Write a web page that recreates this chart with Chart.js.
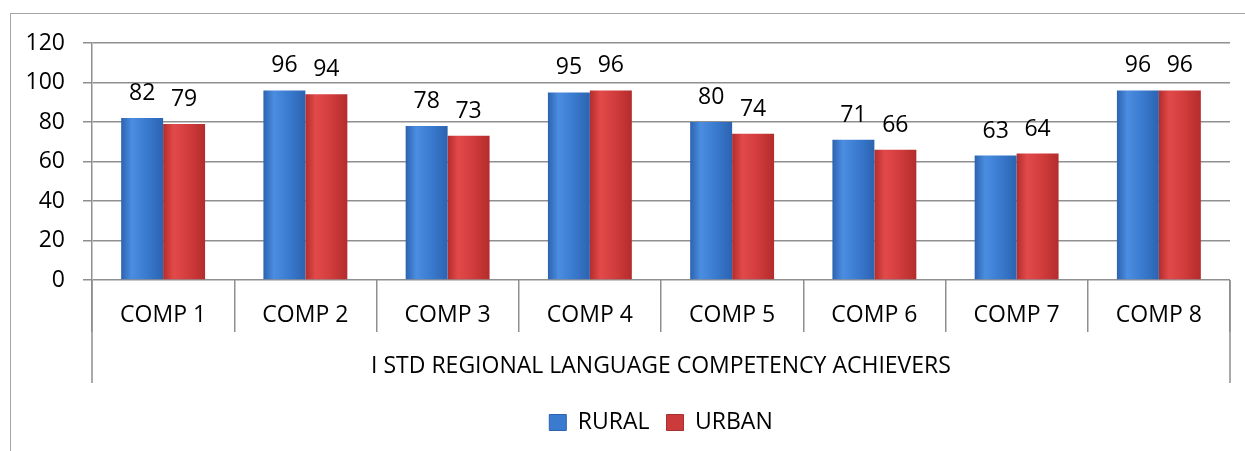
<!DOCTYPE html>
<html>
<head>
<meta charset="utf-8">
<script src="https://cdn.jsdelivr.net/npm/chart.js@4.4.1/dist/chart.umd.min.js"></script>
<style>
  html, body { margin: 0; padding: 0; background: #fff; overflow: hidden; }
  #wrap { position: relative; width: 1245px; height: 451px; }
  #frame { position: absolute; left: 10px; top: 13px; width: 1300px; height: 500px;
           border-left: 1px solid #a6a6a6; border-top: 1px solid #a6a6a6; pointer-events: none; }
  canvas { position: absolute; left: 0; top: 0; }
</style>
</head>
<body>
<div id="wrap">
  <div id="frame"></div>
  <canvas id="c" width="1245" height="451"></canvas>
</div>
<script>
const categories = ['COMP 1', 'COMP 2', 'COMP 3', 'COMP 4', 'COMP 5', 'COMP 6', 'COMP 7', 'COMP 8'];
const rural = [82, 96, 78, 95, 80, 71, 63, 96];
const urban = [79, 94, 73, 96, 74, 66, 64, 96];
const axisTitle = 'I STD REGIONAL LANGUAGE COMPETENCY ACHIEVERS';
const seriesNames = ['RURAL', 'URBAN'];
const yTicks = [0, 20, 40, 60, 80, 100, 120];

const FONT = '"Open Sans", "Liberation Sans", sans-serif';
const GRID = '#8f8f8f';
const CAT_PCT = 0.59;

function barFill(dark, light, base) {
  return (ctx) => {
    const chart = ctx.chart;
    const xs = chart.scales && chart.scales.x;
    if (ctx.type !== 'data' || !xs || !chart.chartArea || !isFinite(xs.width)) return base;
    const c = xs.getPixelForValue(ctx.dataIndex);
    const w = (xs.width / categories.length) * CAT_PCT / 2;
    const l = ctx.datasetIndex === 0 ? c - w : c;
    const g = chart.ctx.createLinearGradient(l, 0, l + w, 0);
    g.addColorStop(0, dark);
    g.addColorStop(0.25, light);
    g.addColorStop(0.6, base);
    g.addColorStop(1, dark);
    return g;
  };
}

const valueLabels = {
  id: 'valueLabels',
  afterDatasetsDraw(chart) {
    const ctx = chart.ctx;
    ctx.save();
    ctx.font = '23px ' + FONT;
    ctx.fillStyle = '#000';
    ctx.textAlign = 'center';
    ctx.textBaseline = 'alphabetic';
    chart.data.datasets.forEach((ds, di) => {
      chart.getDatasetMeta(di).data.forEach((bar, i) => {
        ctx.fillText(String(ds.data[i]), bar.x, bar.y - 18);
      });
    });
    ctx.restore();
  }
};

const edgeLines = {
  id: 'edgeLines',
  afterDraw(chart) {
    const ctx = chart.ctx;
    const a = chart.chartArea;
    const xs = chart.scales.x;
    ctx.save();
    ctx.strokeStyle = GRID;
    ctx.lineWidth = 1.5;
    ctx.beginPath();
    ctx.moveTo(a.left, a.bottom);
    ctx.lineTo(a.left, xs.bottom - 11);
    ctx.moveTo(a.right, a.bottom);
    ctx.lineTo(a.right, xs.bottom - 11);
    ctx.stroke();
    ctx.restore();
  }
};

new Chart(document.getElementById('c'), {
  type: 'bar',
  data: {
    labels: categories,
    datasets: [
      { label: seriesNames[0], data: rural,
        backgroundColor: barFill('#2c63b0', '#4b8de0', '#3a7bd0'),
        borderWidth: 0 },
      { label: seriesNames[1], data: urban,
        backgroundColor: barFill('#b42c2c', '#e24a4a', '#d23c3c'),
        borderWidth: 0 }
    ]
  },
  options: {
    responsive: false,
    animation: false,
    devicePixelRatio: 1,
    layout: { padding: { left: 0, right: 15, top: 43, bottom: 7 } },
    datasets: { bar: { categoryPercentage: CAT_PCT, barPercentage: 1 } },
    scales: {
      y: {
        min: 0, max: 120,
        afterFit: (s) => { s.width = 92; },
        afterBuildTicks: (s) => { s.ticks = yTicks.map(v => ({ value: v })); },
        ticks: { stepSize: 20, padding: 18, color: '#000', font: { family: FONT, size: 23 } },
        grid: { color: GRID, lineWidth: 1.5, tickLength: 9, drawTicks: true },
        border: { display: true, color: GRID, width: 1.5 }
      },
      x: {
        offset: true,
        afterFit: (s) => { s.height = 114; },
        ticks: { padding: -30, color: '#000', font: { family: FONT, size: 23 }, maxRotation: 0, autoSkip: false },
        grid: { offset: true, drawOnChartArea: false, drawTicks: true, tickLength: 52, color: GRID, lineWidth: 1.5 },
        border: { display: false },
        title: { display: true, text: axisTitle, color: '#000',
                 font: { family: FONT, size: 23 }, padding: { top: 0, bottom: 14 } }
      }
    },
    plugins: {
      legend: {
        position: 'bottom',
        fullSize: false,
        labels: {
          boxWidth: 17, boxHeight: 16, padding: 17, color: '#000',
          font: { family: FONT, size: 23 },
          generateLabels: (chart) => chart.data.datasets.map((ds, i) => ({
            text: ds.label,
            fillStyle: i === 0 ? '#3a7bd0' : '#cc3b3b',
            strokeStyle: i === 0 ? '#2c63b0' : '#a83030',
            lineWidth: 1,
            hidden: false,
            datasetIndex: i
          }))
        }
      },
      tooltip: { enabled: false }
    }
  },
  plugins: [valueLabels, edgeLines]
});
</script>
</body>
</html>
